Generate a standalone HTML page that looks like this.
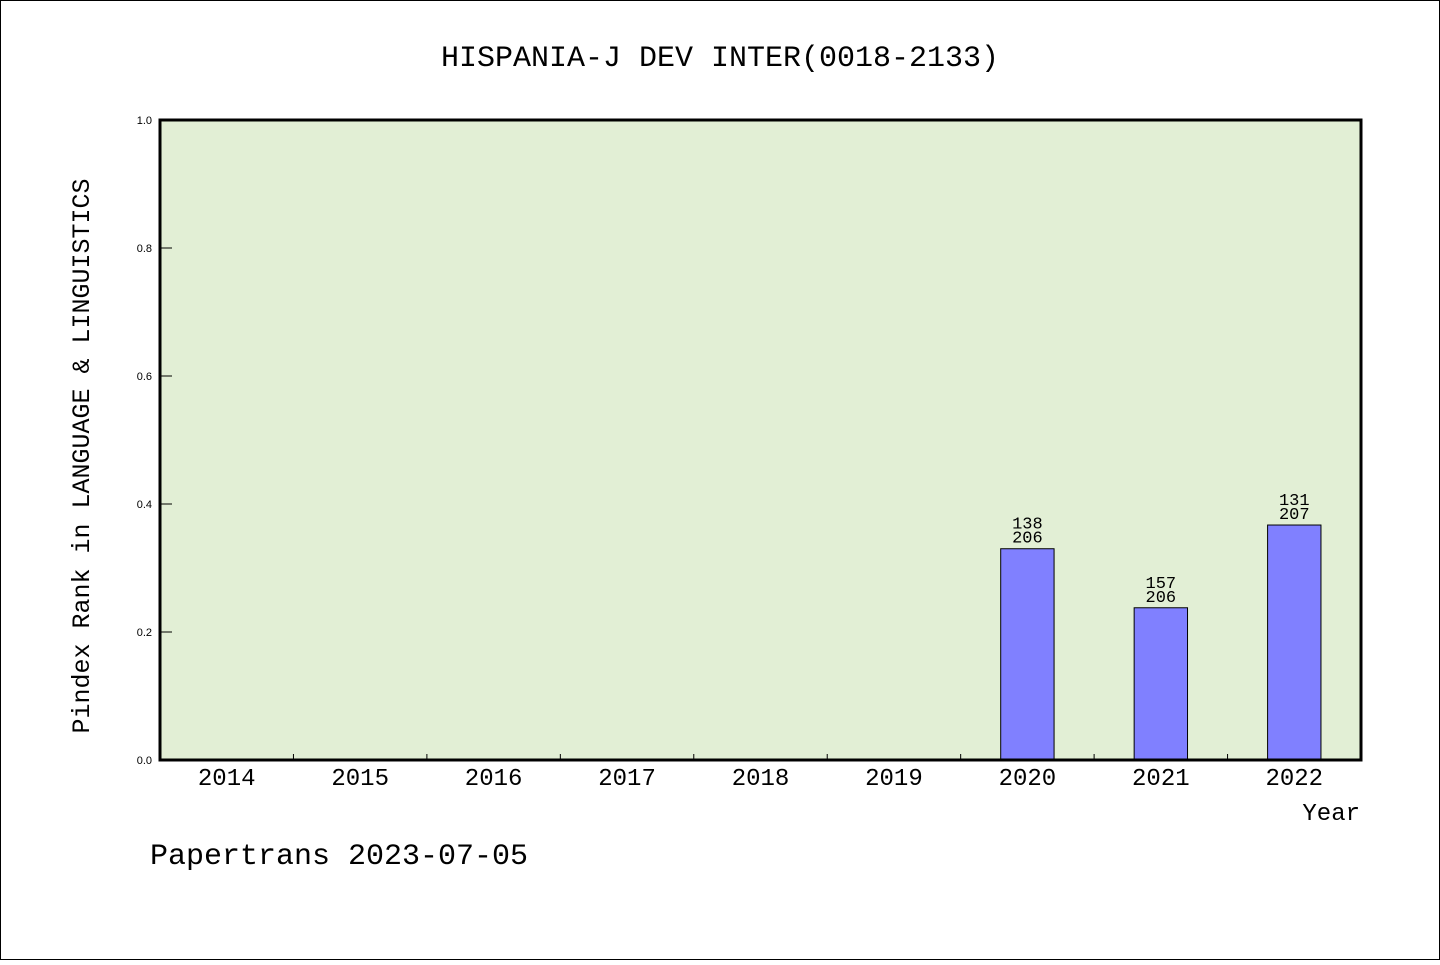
<!DOCTYPE html>
<html><head><meta charset="utf-8"><style>
html,body{margin:0;padding:0;background:#fff;}
svg text{font-family:"Liberation Mono",monospace;fill:#000;}
</style></head><body>
<svg id="chart" width="1440" height="960" viewBox="0 0 1440 960" xmlns="http://www.w3.org/2000/svg">
<rect x="0.5" y="0.5" width="1439" height="959" fill="#fff" stroke="#000" stroke-width="1"/>
<text x="720" y="66" font-size="30" text-anchor="middle">HISPANIA-J DEV INTER(0018-2133)</text>
<rect x="160" y="120" width="1201" height="640" fill="#e2efd5"/>
<g id="ticks"></g>
<g id="bars"></g>
<rect x="160" y="120" width="1201" height="640" fill="none" stroke="#000" stroke-width="3"/>
<text transform="translate(89,456) rotate(-90)" font-size="25" text-anchor="middle">Pindex Rank in LANGUAGE &amp; LINGUISTICS</text>
<text x="1360" y="820" font-size="24" text-anchor="end">Year</text>
<text x="150" y="864" font-size="30">Papertrans 2023-07-05</text>
</svg>
<script>
const years = ['2014','2015','2016','2017','2018','2019','2020','2021','2022'];
const ranks = [null,null,null,null,null,null,138,157,131];
const totals = [null,null,null,null,null,null,206,206,207];
const yTicks = [0,0.2,0.4,0.6,0.8,1.0];
const yTickLabels = ['0.0','0.2','0.4','0.6','0.8','1.0'];

const NS='http://www.w3.org/2000/svg';
const L=160,R=1361,T=120,B=760;
const bw=(R-L)/years.length;
const xC=i=>L+bw*(i+0.5);
const yS=v=>B-(v)*(B-T);
function mk(tag,attrs,parent){const e=document.createElementNS(NS,tag);for(const k in attrs)e.setAttribute(k,attrs[k]);parent.appendChild(e);return e;}
const tg=document.getElementById('ticks'), bg=document.getElementById('bars');
yTicks.forEach((v,i)=>{
  const y=yS(v);
  const l=mk('line',{x1:L,x2:L+12,y1:y,y2:y,stroke:'#000','stroke-width':1},tg);
  
  
  const t=mk('text',{x:L-8,y:y+4,'font-size':11,'text-anchor':'end'},tg);
  t.setAttribute('style','font-family:"Liberation Sans",sans-serif');
  t.textContent=yTickLabels[i];
  
  
});
years.forEach((yr,i)=>{
  if(i>0){
    const x=L+bw*i;
    const l=mk('line',{x1:x,x2:x,y1:B,y2:B-6,stroke:'#000','stroke-width':1},tg);
    
    
  }
  const t=mk('text',{x:xC(i),y:785,'font-size':24,'text-anchor':'middle'},tg);
  t.textContent=yr;
  
  
  if(ranks[i]!=null){
    const v=1-ranks[i]/totals[i];
    const w=bw*0.4;
    const r=mk('rect',{x:xC(i)-w/2,y:yS(v),width:w,height:B-yS(v),fill:'#8080ff',stroke:'#000','stroke-width':1},bg);
    
    
    const t1=mk('text',{x:xC(i),y:yS(v)-20,'font-size':17,'text-anchor':'middle'},bg);
    t1.textContent=ranks[i];
    
    
    const t2=mk('text',{x:xC(i),y:yS(v)-6,'font-size':17,'text-anchor':'middle'},bg);
    t2.textContent=totals[i];
    
    
  }
});
</script>
</body></html>
